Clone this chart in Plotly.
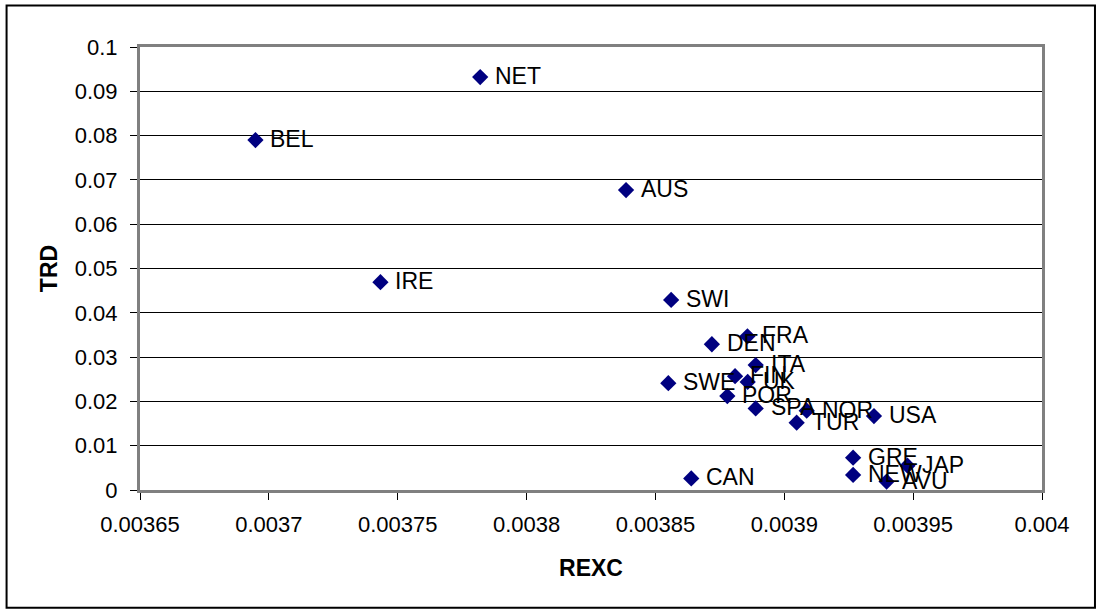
import plotly.graph_objects as go

# Country codes with their REXC / TRD values
countries = ["NET", "BEL", "AUS", "IRE", "SWI", "FRA", "DEN", "ITA", "FIN", "UK",
             "SWE", "POR", "SPA", "NOR", "TUR", "USA", "GRE", "NEW", "JAP", "AVU", "CAN"]
rexc = [0.003782, 0.0036948, 0.0038386, 0.0037433, 0.0038561, 0.0038857, 0.0038719,
        0.0038889, 0.0038809, 0.0038858, 0.003855, 0.0038779, 0.0038889, 0.0039087,
        0.0039048, 0.0039348, 0.0039267, 0.0039267, 0.0039478, 0.0039397, 0.0038639]
trd = [0.0932, 0.0790, 0.0677, 0.0469, 0.0429, 0.0347, 0.0329, 0.0282, 0.0257, 0.0244,
       0.0241, 0.0212, 0.0184, 0.0179, 0.0152, 0.0167, 0.0073, 0.0034, 0.0055, 0.0019, 0.0026]

x_ticks = [0.00365, 0.0037, 0.00375, 0.0038, 0.00385, 0.0039, 0.00395, 0.004]
x_tick_text = ["0.00365", "0.0037", "0.00375", "0.0038", "0.00385", "0.0039", "0.00395", "0.004"]
y_ticks = [0, 0.01, 0.02, 0.03, 0.04, 0.05, 0.06, 0.07, 0.08, 0.09, 0.1]
y_tick_text = ["0", "0.01", "0.02", "0.03", "0.04", "0.05", "0.06", "0.07", "0.08", "0.09", "0.1"]

FONT = "Arial, Liberation Sans, sans-serif"

fig = go.Figure()
fig.add_trace(go.Scatter(
    x=rexc, y=trd, mode="markers",
    marker=dict(symbol="diamond", size=12.5, color="#000080"),
    hoverinfo="skip", showlegend=False,
))

# Point labels to the right of each marker
for name, xv, yv in zip(countries, rexc, trd):
    fig.add_annotation(x=xv, y=yv, text=name, showarrow=False,
                       xanchor="left", yanchor="middle", xshift=13, yshift=1,
                       font=dict(family=FONT, size=23, color="black"))

# Outer chart frame
L, R, T, B = 139.5, 1042.0, 46.5, 490.0
W, H = R - L, B - T
fig.add_shape(type="rect", xref="paper", yref="paper",
              x0=(6 - L) / W, x1=(1095 - L) / W,
              y0=(B - 608) / H, y1=(B - 5) / H,
              line=dict(color="black", width=2), fillcolor="rgba(0,0,0,0)", layer="below")

fig.update_layout(
    width=1097, height=610,
    margin=dict(l=L, r=1097 - R, t=T, b=610 - B),
    paper_bgcolor="white", plot_bgcolor="white",
    font=dict(family=FONT, size=22, color="black"),
    xaxis=dict(
        range=[0.00365, 0.004], tickvals=x_ticks, ticktext=x_tick_text,
        showgrid=False, zeroline=False,
        showline=True, linecolor="#808080", linewidth=3, mirror=True,
        ticks="outside", ticklen=7, tickcolor="black", tickwidth=1,
        tickfont=dict(size=22), ticklabelstandoff=6,
        title=dict(text="<b>REXC</b>", font=dict(size=23), standoff=24),
    ),
    yaxis=dict(
        range=[0, 0.1], tickvals=y_ticks, ticktext=y_tick_text,
        showgrid=True, gridcolor="black", gridwidth=1, zeroline=False,
        showline=True, linecolor="#808080", linewidth=3, mirror=True,
        ticks="outside", ticklen=7, tickcolor="black", tickwidth=1,
        tickfont=dict(size=22), ticklabelstandoff=8,
        title=dict(text="<b>TRD</b>", font=dict(size=23), standoff=11),
    ),
)

fig.write_html("out.html")
